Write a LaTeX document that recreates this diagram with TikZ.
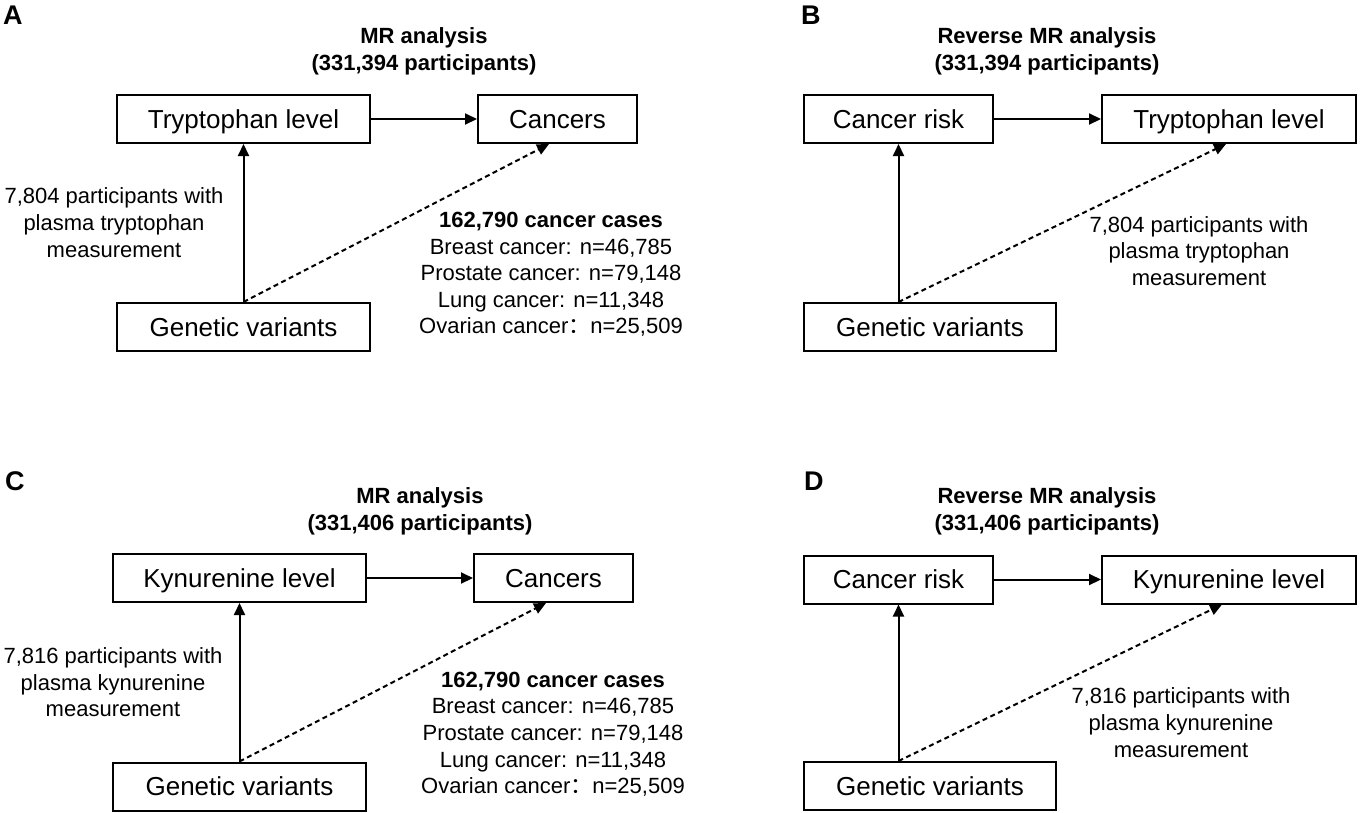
\documentclass[tikz,border=0pt]{standalone}
\usepackage{fontspec}
\setmainfont{Liberation Sans}
\newfontfamily\cjk{Noto Sans CJK SC}
\usetikzlibrary{arrows.meta}
\tikzset{
  box/.style={draw, line width=2pt, inner sep=0pt, minimum height=48pt,
    font=\fontsize{26}{30}\selectfont, text height=18.6pt, text depth=0pt},
  txt/.style={font=\fontsize{22}{26}\selectfont, anchor=base, inner sep=0pt},
  btxt/.style={txt, font=\fontsize{22}{26}\selectfont\bfseries},
  lbl/.style={font=\fontsize{27}{30}\selectfont\bfseries, anchor=base west, inner sep=0pt},
  arr/.style={line width=2pt, -{Triangle[length=12pt,width=11pt]}},
  darr/.style={arr, dash pattern=on 5pt off 3.5pt},
}
\begin{document}
\begin{tikzpicture}[x=1pt, y=-1pt]
\useasboundingbox (0,0) rectangle (1360,812);

% ---------- Panel A ----------
\node[lbl] (labA) at (3,24) {A};
\node[btxt] (tA1) at (424,43) {MR analysis};
\node[btxt] (tA2) at (424,70) {(331,394 participants)};
\node[box, minimum width=253pt] (trpA) at (243.5,119) {Tryptophan level};
\node[box, minimum width=159pt] (canA) at (557.5,119) {Cancers};
\node[box, minimum width=253pt] (genA) at (243.5,327) {Genetic variants};
\draw[arr] (trpA) -- (canA);
\draw[arr] (genA.north) -- (trpA.south);
\draw[darr] (genA.north) -- ([xshift=-8.5pt]canA.south);
\node[txt] (lA1) at (114,203) {7,804 participants with};
\node[txt] (lA2) at (114,230) {plasma tryptophan};
\node[txt] (lA3) at (114,257) {measurement};
\node[btxt] (rA0) at (551,227) {162,790 cancer cases};
\node[txt] (rA1) at (551,254) {Breast cancer: n=46,785};
\node[txt] (rA2) at (551,280) {Prostate cancer: n=79,148};
\node[txt] (rA3) at (551,307) {Lung cancer: n=11,348};
\node[txt] (rA4) at (551,333) {Ovarian cancer{\cjk ：}n=25,509};

% ---------- Panel B ----------
\node[lbl] (labB) at (801,24) {B};
\node[btxt] (tB1) at (1047,43) {Reverse MR analysis};
\node[btxt] (tB2) at (1047,70) {(331,394 participants)};
\node[box, minimum width=189pt] (crB) at (898.5,119) {Cancer risk};
\node[box, minimum width=254pt] (trpB) at (1229,119) {Tryptophan level};
\node[box, minimum width=252pt] (genB) at (930,327) {Genetic variants};
\coordinate (gB) at (crB.south |- genB.north);
\draw[arr] (crB) -- (trpB);
\draw[arr] (gB) -- (crB.south);
\draw[darr] (gB) -- ([xshift=-3pt]trpB.south);
\node[txt] (lB1) at (1199,232) {7,804 participants with};
\node[txt] (lB2) at (1199,258) {plasma tryptophan};
\node[txt] (lB3) at (1199,285) {measurement};

% ---------- Panel C ----------
\node[lbl] (labC) at (5,490) {C};
\node[btxt] (tC1) at (420,503) {MR analysis};
\node[btxt] (tC2) at (420,530) {(331,406 participants)};
\node[box, minimum width=253pt] (kynC) at (239.5,578) {Kynurenine level};
\node[box, minimum width=159pt] (canC) at (553.5,578) {Cancers};
\node[box, minimum width=253pt] (genC) at (239.5,786.5) {Genetic variants};
\draw[arr] (kynC) -- (canC);
\draw[arr] (genC.north) -- (kynC.south);
\draw[darr] (genC.north) -- ([xshift=-7.5pt]canC.south);
\node[txt] (lC1) at (113,663) {7,816 participants with};
\node[txt] (lC2) at (113,690) {plasma kynurenine};
\node[txt] (lC3) at (113,716) {measurement};
\node[btxt] (rC0) at (553,687) {162,790 cancer cases};
\node[txt] (rC1) at (553,713) {Breast cancer: n=46,785};
\node[txt] (rC2) at (553,740) {Prostate cancer: n=79,148};
\node[txt] (rC3) at (553,767) {Lung cancer: n=11,348};
\node[txt] (rC4) at (553,793) {Ovarian cancer{\cjk ：}n=25,509};

% ---------- Panel D ----------
\node[lbl] (labD) at (804,490) {D};
\node[btxt] (tD1) at (1047,503) {Reverse MR analysis};
\node[btxt] (tD2) at (1047,530) {(331,406 participants)};
\node[box, minimum width=189pt] (crD) at (898.5,579.5) {Cancer risk};
\node[box, minimum width=254pt] (kynD) at (1229,579.5) {Kynurenine level};
\node[box, minimum width=252pt] (genD) at (930,786) {Genetic variants};
\coordinate (gD) at (crD.south |- genD.north);
\draw[arr] (crD) -- (kynD);
\draw[arr] (gD) -- (crD.south);
\draw[darr] (gD) -- ([xshift=-7pt]kynD.south);
\node[txt] (lD1) at (1181,703) {7,816 participants with};
\node[txt] (lD2) at (1181,730) {plasma kynurenine};
\node[txt] (lD3) at (1181,757) {measurement};
\end{tikzpicture}
\end{document}
